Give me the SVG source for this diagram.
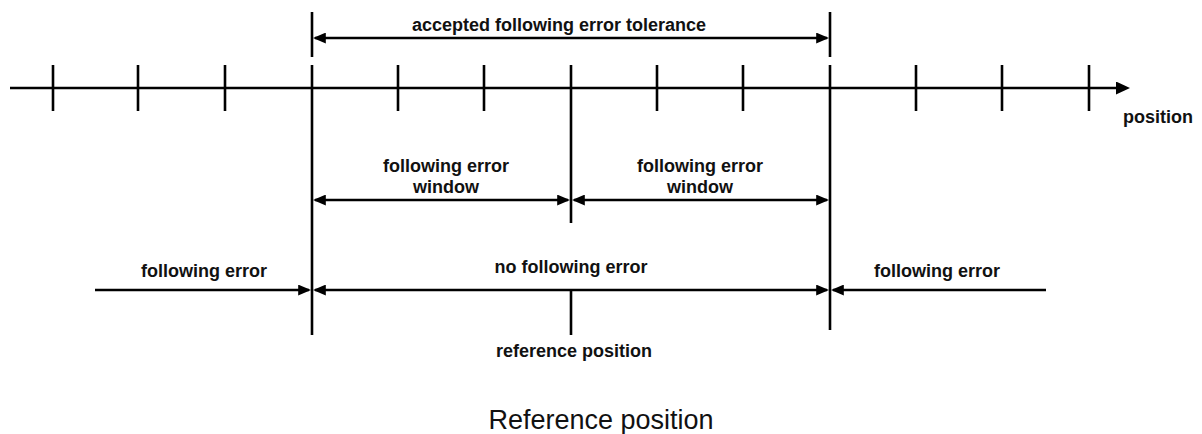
<svg xmlns="http://www.w3.org/2000/svg" width="1202" height="434" viewBox="0 0 1202 434">
<style>
.ln{stroke:#000;stroke-width:2.6;fill:none}
.lb{font-family:"Liberation Sans",Arial,sans-serif;font-weight:bold;font-size:18px;fill:#111;text-anchor:middle}
.cap{font-family:"Liberation Sans",Arial,sans-serif;font-size:27px;fill:#111;text-anchor:middle}
</style>
<defs>
<marker id="ah" markerUnits="userSpaceOnUse" markerWidth="13" markerHeight="11" refX="10" refY="5" orient="auto-start-reverse" viewBox="0 0 12 10">
<path d="M0,0 L12,5 L0,10 z" fill="#000"/>
</marker>
<marker id="axh" markerUnits="userSpaceOnUse" markerWidth="14" markerHeight="13" refX="2" refY="6.5" orient="auto" viewBox="0 0 14 13">
<path d="M0,0 L14,6.5 L0,13 z" fill="#000"/>
</marker>
</defs>
<g id="axis">
<line class="ln" x1="10" y1="88" x2="1118" y2="88" marker-end="url(#axh)"/>
<g class="ln">
<line x1="53" y1="65" x2="53" y2="111"/>
<line x1="138" y1="65" x2="138" y2="111"/>
<line x1="225" y1="65" x2="225" y2="111"/>
<line x1="398" y1="65" x2="398" y2="111"/>
<line x1="484" y1="65" x2="484" y2="111"/>
<line x1="657" y1="65" x2="657" y2="111"/>
<line x1="743" y1="65" x2="743" y2="111"/>
<line x1="916" y1="65" x2="916" y2="111"/>
<line x1="1002" y1="65" x2="1002" y2="111"/>
<line x1="1089" y1="65" x2="1089" y2="111"/>
</g>
<text class="lb" x="1158" y="123">position</text>
</g>
<g id="boundaries" class="ln">
<line x1="312" y1="12" x2="312" y2="57"/>
<line x1="830" y1="12" x2="830" y2="57"/>
<line x1="312" y1="65" x2="312" y2="335"/>
<line x1="830" y1="65" x2="830" y2="330"/>
<line x1="571" y1="65" x2="571" y2="223"/>
<line x1="571" y1="290" x2="571" y2="335"/>
</g>
<g id="connectors" class="ln">
<line x1="315" y1="38" x2="827" y2="38" marker-start="url(#ah)" marker-end="url(#ah)"/>
<line x1="315" y1="200" x2="568" y2="200" marker-start="url(#ah)" marker-end="url(#ah)"/>
<line x1="574" y1="200" x2="827" y2="200" marker-start="url(#ah)" marker-end="url(#ah)"/>
<line x1="95" y1="290" x2="309" y2="290" marker-end="url(#ah)"/>
<line x1="315" y1="290" x2="827" y2="290" marker-start="url(#ah)" marker-end="url(#ah)"/>
<line x1="1046" y1="290" x2="833" y2="290" marker-end="url(#ah)"/>
</g>
<g id="tolerance-label"><text class="lb" x="559" y="31">accepted following error tolerance</text></g>
<g id="window-left-label"><text class="lb" x="446" y="172">following error</text><text class="lb" x="446" y="193">window</text></g>
<g id="window-right-label"><text class="lb" x="700" y="172">following error</text><text class="lb" x="700" y="193">window</text></g>
<g id="fe-left-label"><text class="lb" x="204" y="277">following error</text></g>
<g id="nofe-label"><text class="lb" x="571" y="273">no following error</text></g>
<g id="fe-right-label"><text class="lb" x="937" y="277">following error</text></g>
<g id="ref-label"><text class="lb" x="574" y="357">reference position</text></g>
<g id="caption"><text class="cap" x="601" y="429">Reference position</text></g>
</svg>
